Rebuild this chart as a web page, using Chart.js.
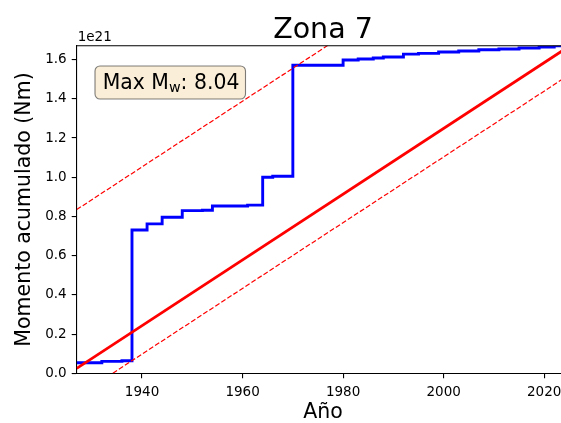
<!DOCTYPE html>
<html lang="es">
<head>
<meta charset="UTF-8">
<title>Zona 7</title>
<style>
  html, body { margin: 0; padding: 0; overflow: hidden; background: #fff; }
  #grafico { position: absolute; left: 0; top: 0; }
</style>
</head>
<body>
<canvas id="grafico" width="572" height="423"></canvas>
<script src="https://cdn.jsdelivr.net/npm/chart.js@4.4.0/dist/chart.umd.min.js"></script>
<script>
// momento sísmico acumulado (en unidades de 1e21 Nm)
const anios = [1927, 1932, 1936, 1938, 1941, 1944, 1948, 1952, 1954, 1961, 1964, 1966,
               1970, 1980, 1983, 1986, 1988, 1992, 1995, 1999, 2003, 2007, 2011, 2015,
               2019, 2022, 2025];
const momento = [0.054, 0.061, 0.064, 0.731, 0.762, 0.796, 0.830, 0.832, 0.853, 0.858, 1.000, 1.005,
                 1.571, 1.598, 1.603, 1.608, 1.613, 1.628, 1.632, 1.639, 1.644, 1.650, 1.654, 1.659,
                 1.664, 1.671, 1.671];

// tasa media y bandas
const rectaAnios = [1927, 2025];
const recta = [0.025, 1.668];
const bandaSup = [0.835, 2.478];
const bandaInf = [-0.12, 1.523];

const ticksX = [1940, 1960, 1980, 2000, 2020];
const ticksY = [0.0, 0.2, 0.4, 0.6, 0.8, 1.0, 1.2, 1.4, 1.6];
const etiquetasY = ['0.0', '0.2', '0.4', '0.6', '0.8', '1.0', '1.2', '1.4', '1.6'];
const rangoX = [1927, 2025];
const rangoY = [0, 1.671];
const exponente = '1e21';
const titulo = 'Zona 7';
const maxMw = '8.04';

const FUENTE = 'DejaVu Sans';

const pares = (xs, ys) => xs.map((x, i) => ({ x: x, y: ys[i] }));

const decoraciones = {
  id: 'decoraciones',
  afterDraw(chart) {
    const { ctx, chartArea: a } = chart;
    ctx.save();
    // marco superior y derecho
    ctx.strokeStyle = '#000';
    ctx.lineWidth = 1.1;
    ctx.beginPath();
    ctx.moveTo(a.left, a.top);
    ctx.lineTo(a.right, a.top);
    ctx.lineTo(a.right, a.bottom);
    ctx.stroke();

    // titulo y exponente
    ctx.fillStyle = '#000';
    ctx.textBaseline = 'alphabetic';
    ctx.textAlign = 'center';
    ctx.font = '28.5px "' + FUENTE + '"';
    ctx.fillText(titulo, (a.left + a.right) / 2, 37.5);
    ctx.textAlign = 'left';
    ctx.font = '13.5px "' + FUENTE + '"';
    ctx.fillText(exponente, a.left + 1, 41);

    // recuadro con la magnitud maxima
    const bx = 95, by = 66, bw = 150.5, bh = 33;
    ctx.beginPath();
    ctx.roundRect(bx, by, bw, bh, 5);
    ctx.fillStyle = 'rgba(245, 222, 179, 0.5)';
    ctx.fill();
    ctx.strokeStyle = 'rgba(0, 0, 0, 0.5)';
    ctx.lineWidth = 1.1;
    ctx.stroke();

    ctx.fillStyle = '#000';
    let x = 102.7;
    const base = 88.5;
    ctx.font = '20.4px "' + FUENTE + '"';
    ctx.fillText('Max M', x, base);
    x += ctx.measureText('Max M').width;
    ctx.font = '14.3px "' + FUENTE + '"';
    ctx.fillText('w', x, base + 3);
    x += ctx.measureText('w').width;
    ctx.font = '20.4px "' + FUENTE + '"';
    ctx.fillText(': ' + maxMw, x, base);
    ctx.restore();
  }
};

new Chart(document.getElementById('grafico'), {
  type: 'line',
  data: {
    datasets: [
      {
        data: pares(rectaAnios, recta),
        borderColor: '#ff0000',
        borderWidth: 2.8,
        pointRadius: 0,
        order: 1
      },
      {
        data: pares(rectaAnios, bandaSup),
        borderColor: '#ff0000',
        borderWidth: 1.2,
        borderDash: [5, 2.2],
        pointRadius: 0,
        order: 1
      },
      {
        data: pares(rectaAnios, bandaInf),
        borderColor: '#ff0000',
        borderWidth: 1.2,
        borderDash: [5, 2.2],
        pointRadius: 0,
        order: 1
      },
      {
        data: pares(anios, momento),
        borderColor: '#0000ff',
        borderWidth: 2.9,
        stepped: 'before',
        pointRadius: 0,
        order: 3
      }
    ]
  },
  options: {
    responsive: false,
    animation: false,
    devicePixelRatio: 1,
    layout: { padding: { top: 45.7, right: 2.7, left: 0, bottom: 0 } },
    plugins: { legend: { display: false }, tooltip: { enabled: false } },
    scales: {
      x: {
        type: 'linear',
        min: rangoX[0],
        max: rangoX[1],
        afterBuildTicks: s => { s.ticks = ticksX.map(v => ({ value: v })); },
        afterFit: s => { s.height = 49.7; s.paddingLeft = 0; s.paddingRight = 0; },
        grid: { drawOnChartArea: false, drawTicks: true, tickLength: 5, color: '#000', lineWidth: 1.1 },
        border: { display: true, color: '#000', width: 1.1 },
        ticks: {
          color: '#000',
          padding: 6,
          maxRotation: 0,
          font: { family: FUENTE, size: 13.5 },
          callback: v => String(v)
        },
        title: {
          display: true,
          text: 'Año',
          color: '#000',
          font: { family: FUENTE, size: 20.5, lineHeight: 1 },
          padding: { top: 0, bottom: 0 }
        }
      },
      y: {
        type: 'linear',
        min: rangoY[0],
        max: rangoY[1],
        afterBuildTicks: s => { s.ticks = ticksY.map(v => ({ value: v })); },
        afterFit: s => { s.width = 76.7; s.paddingTop = 0; s.paddingBottom = 0; },
        grid: { drawOnChartArea: false, drawTicks: true, tickLength: 5, color: '#000', lineWidth: 1.1 },
        border: { display: true, color: '#000', width: 1.1 },
        ticks: {
          color: '#000',
          padding: 5,
          font: { family: FUENTE, size: 13.5 },
          callback: v => etiquetasY[ticksY.indexOf(v)] ?? v.toFixed(1)
        },
        title: {
          display: true,
          text: 'Momento acumulado (Nm)',
          color: '#000',
          font: { family: FUENTE, size: 20.5, lineHeight: 1 },
          padding: { top: 14, bottom: 0 }
        }
      }
    }
  },
  plugins: [decoraciones]
});
</script>
</body>
</html>
